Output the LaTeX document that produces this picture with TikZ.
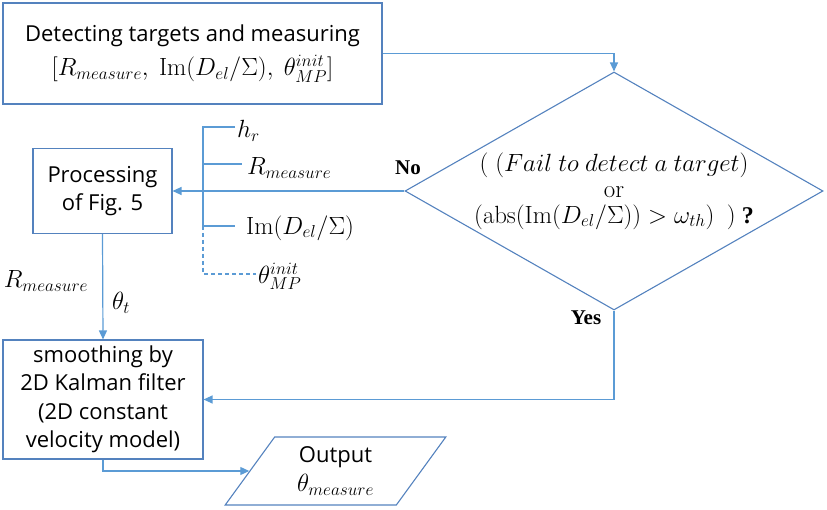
\documentclass[tikz,border=0pt]{standalone}
\usepackage[no-math]{fontspec}
\setmainfont{Open Sans}
\newfontfamily\answerfont{Liberation Serif}
\usetikzlibrary{positioning,shapes.geometric,arrows.meta}
\definecolor{boxBlue}{RGB}{84,130,190}
\definecolor{lineBlue}{RGB}{91,155,213}

\begin{document}
\begin{tikzpicture}[
    x=1pt, y=-1pt,
    node/.style={%
      draw=boxBlue,
      line width=1.1pt,
      rectangle,
      align=center,
      inner sep=0pt,
      font=\fontsize{22}{28.5}\selectfont,
    },
    decision/.style={%
      draw=boxBlue,
      line width=1.1pt,
      diamond,
      inner sep=0pt,
      minimum width=418pt,
      minimum height=238pt,
    },
    io/.style={%
      node,
      trapezium,
      trapezium left angle=57,
      trapezium right angle=123,
      trapezium stretches=true,
    },
    link/.style={draw=lineBlue, line width=1.2pt},
    arrow/.style={link, -{Triangle[length=9pt,width=8pt]}},
    sym/.style={inner sep=0pt, font=\fontsize{24}{26}\selectfont},
    answer/.style={inner sep=0pt, font=\fontsize{21}{24}\answerfont\bfseries},
  ]
    \useasboundingbox (0,0) rectangle (827,510);

    \node [node, minimum width=379pt, minimum height=101pt] (Detect) at (192.5,53.5)
      {Detecting targets and measuring\\[6pt]
       \fontsize{24}{26}\selectfont
       $[R_{measure},\ \mathrm{Im}(D_{el}/\Sigma),\ \theta_{MP}^{init}]$};
    \node [decision] (Cond) at (614,191) {};
    \node [sym, align=center] (CondText) at (Cond.center)
      {$(\;(Fail\ to\ detect\ a\ target)$\\
       $\mathrm{or}$\\
       $\bigl(\mathrm{abs}\bigl(\mathrm{Im}(D_{el}/\Sigma)\bigr) > \omega_{th}\bigr)\ \ )$\ {\answerfont\bfseries ?}};
    \node [node, minimum width=139pt, minimum height=85pt] (Proc) at (102.5,191)
      {Processing\\of Fig. 5};
    \node [node, minimum width=200pt, minimum height=119pt] (Kalman) at (103,399.5)
      {smoothing by\\2D Kalman filter\\(2D constant\\velocity model)};
    \node [io, minimum width=221pt, minimum height=68pt] (Out) at (335.5,471)
      {Output\\[0pt]\fontsize{24}{26}\selectfont$\theta_{measure}$};

    \node [answer] (No) at (408,168) {No};
    \node [answer] (Yes) at (586,318) {Yes};

    % inputs of Fig. 5
    \node [sym, anchor=west] (Hr) at (237,131) {$h_r$};
    \node [sym, anchor=west] (Rm) at (247,168) {$R_{measure}$};
    \node [sym, anchor=west] (Im) at (246,228) {$\mathrm{Im}(D_{el}/\Sigma)$};
    \node [sym, anchor=west] (Th) at (258,276) {$\theta_{MP}^{init}$};
    \node [sym] (RmOut) at (46,281) {$R_{measure}$};
    \node [sym] (ThT) at (121,303) {$\theta_t$};

    \coordinate (HrTick) at (235,127);
    \coordinate (BarTop) at (203,127);
    \coordinate (RmBar) at (203,164);
    \coordinate (RmTick) at (242,164);
    \coordinate (BarMid) at (203,226);
    \coordinate (ImTick) at (235,226);
    \coordinate (BarEnd) at (203,274);
    \coordinate (ThTick) at (256,274);

    \draw [arrow] (Detect.east) -| (Cond.north);
    \draw [arrow] (Cond.west) -- (Proc.east);
    \draw [arrow] (Proc.south) -- (Kalman.north);
    \draw [arrow] (Cond.south) |- (Kalman.east);
    \draw [arrow] (Kalman.south) |- (Out.west);

    \draw [link] (HrTick) -- (BarTop) -- (BarMid) -- (ImTick);
    \draw [link] (RmBar) -- (RmTick);
    \draw [link, dash pattern=on 4pt off 3pt] (BarMid) -- (BarEnd) -- (ThTick);
\end{tikzpicture}
\end{document}
